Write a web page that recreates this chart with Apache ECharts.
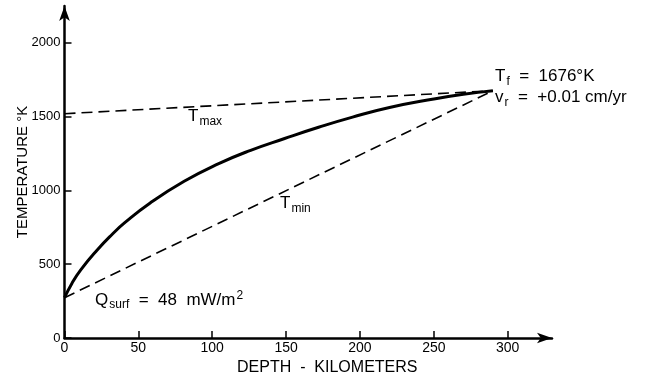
<!DOCTYPE html>
<html>
<head>
<meta charset="utf-8">
<script src="https://cdn.jsdelivr.net/npm/echarts@6/dist/echarts.min.js"></script>
<style>html,body{margin:0;padding:0;background:#fff}#c{width:653px;height:381px}</style>
</head>
<body>
<div id="c"></div>
<script>
// Data (depth km, temperature K)
const xTicks = [0, 50, 100, 150, 200, 250, 300];
const yTicks = [0, 500, 1000, 1500, 2000];
const geothermDepth = [0, 5, 11, 22, 32, 41, 58, 81, 104, 126, 149, 172, 195, 220, 250, 270, 290];
const geothermTemp  = [273, 370, 462, 595, 700, 783, 915, 1062, 1180, 1272, 1352, 1428, 1497, 1562, 1620, 1652, 1676];
const tmaxDepth = [0, 290];
const tmaxTemp = [1520, 1676];
const tminDepth = [0, 290];
const tminTemp = [273, 1676];

const pair = (xs, ys) => xs.map((x, i) => [x, ys[i]]);
const FONT = 'Liberation Sans';
const fmt = v => String(v);

const chart = echarts.init(document.getElementById('c'), null, {renderer: 'canvas'});
const dashed = {color: '#000', width: 1.6, type: [11, 6]};
const big = {fontSize: 17, fontFamily: FONT, fill: '#000'};
const sub = {fontSize: 12, fontFamily: FONT, fill: '#000', padding: [10, 0, 0, 1]};
const sup = {fontSize: 12, fontFamily: FONT, fill: '#000', padding: [0, 0, 8, 1]};
chart.setOption({
  animation: false,
  backgroundColor: '#fff',
  grid: {left: 64.5, right: 101, top: 6, bottom: 43, containLabel: false, outerBoundsMode: 'none'},
  xAxis: {
    type: 'value', min: 0, max: 330, interval: 50,
    splitLine: {show: false},
    axisLine: {lineStyle: {color: '#000', width: 2.5}, symbol: ['none', 'arrow'], symbolSize: [8, 15]},
    axisTick: {inside: true, length: 7, lineStyle: {color: '#000', width: 1.5}, customValues: xTicks},
    axisLabel: {color: '#000', fontFamily: FONT, fontSize: 14, margin: 3, formatter: fmt, customValues: xTicks},
    name: 'DEPTH  -  KILOMETERS', nameLocation: 'middle', nameGap: 22, nameMoveOverlap: false,
    nameTextStyle: {color: '#000', fontFamily: FONT, fontSize: 16, padding: [0, 0, 0, 38]}
  },
  yAxis: {
    type: 'value', min: 0, max: 2250, interval: 500,
    splitLine: {show: false},
    axisLine: {lineStyle: {color: '#000', width: 2.5}, symbol: ['none', 'arrow'], symbolSize: [8, 15]},
    axisTick: {inside: true, length: 7, lineStyle: {color: '#000', width: 1.5}, customValues: yTicks},
    axisLabel: {color: '#000', fontFamily: FONT, fontSize: 13, margin: 4, formatter: fmt, customValues: yTicks},
    name: 'TEMPERATURE °K', nameLocation: 'middle', nameGap: 34, nameRotate: 90, nameMoveOverlap: false,
    nameTextStyle: {color: '#000', fontFamily: FONT, fontSize: 15}
  },
  series: [
    {type: 'line', data: pair(geothermDepth, geothermTemp), smooth: 0.5, symbol: 'none',
     lineStyle: {color: '#000', width: 3}},
    {type: 'line', data: pair(tmaxDepth, tmaxTemp), symbol: 'none', lineStyle: dashed},
    {type: 'line', data: pair(tminDepth, tminTemp), symbol: 'none', lineStyle: dashed}
  ],
  graphic: [
    {type: 'text', left: 188, top: 108, style: {text: '{a|T}{b|max}', rich: {a: big, b: sub}}},
    {type: 'text', left: 280, top: 195, style: {text: '{a|T}{b|min}', rich: {a: big, b: sub}}},
    {type: 'text', left: 95, top: 290, style: {text: '{a|Q}{b|surf}{a|  =  48  mW/m}{c|2}', rich: {a: big, b: sub, c: sup}}},
    {type: 'text', left: 495, top: 68, style: {text: '{a|T}{b|f}{a|  =  1676°K}', rich: {a: big, b: sub}}},
    {type: 'text', left: 495, top: 89, style: {text: '{a|v}{b|r}{a|  =  +0.01 cm/yr}', rich: {a: big, b: sub}}}
  ]
});
</script>
</body>
</html>
